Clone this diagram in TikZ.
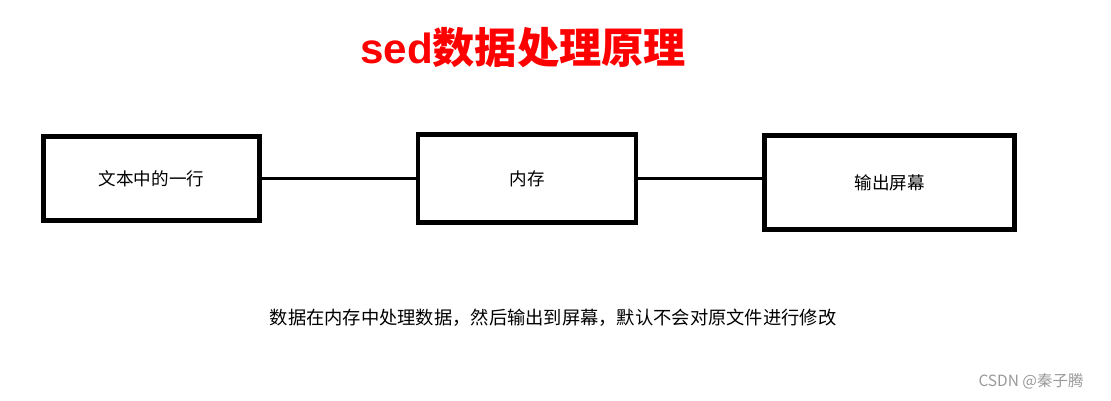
\documentclass[tikz,border=0pt]{standalone}
\usepackage{fontspec}
\setmainfont{Liberation Sans}
\newfontfamily\cjk{Noto Sans CJK SC}
\usetikzlibrary{positioning}

\begin{document}
\begin{tikzpicture}[
    box/.style={draw, line width=3.3pt, minimum width=5.4cm, minimum height=2.1cm, align=center, font=\cjk\fontsize{12.5}{14}\selectfont},
    link/.style={line width=2.6pt}
]
    % frame
    \useasboundingbox (0,0) rectangle (27.775,-10.025);

    % title
    \node[text=red, font=\bfseries\fontsize{30}{34}\selectfont] (title) at (13.075,-1.2) {sed{\cjk 数据处理原理}};

    % boxes
    \node[box] (line) at (3.7875,-4.4625) {文本中的一行};
    \node[box, minimum width=5.45cm, minimum height=2.2cm, right=3.85cm of line] (mem) {内存};
    \node[box, minimum width=6.25cm, minimum height=2.35cm, right=3.1cm of mem, yshift=-0.1cm] (screen) {输出屏幕};

    % connectors
    \draw[link] (line.east) -- (mem.west);
    \draw[link] (mem.east) -- (mem.east -| screen.west);

    % notes
    \node[font=\cjk\fontsize{13}{15}\selectfont] (note) at (13.825,-7.95) {数据在内存中处理数据，然后输出到屏幕，默认不会对原文件进行修改};
    \node[text=black!40, font=\cjk\fontsize{11}{13}\selectfont] (mark) at (25.775,-9.525) {CSDN @秦子腾};
\end{tikzpicture}
\end{document}
